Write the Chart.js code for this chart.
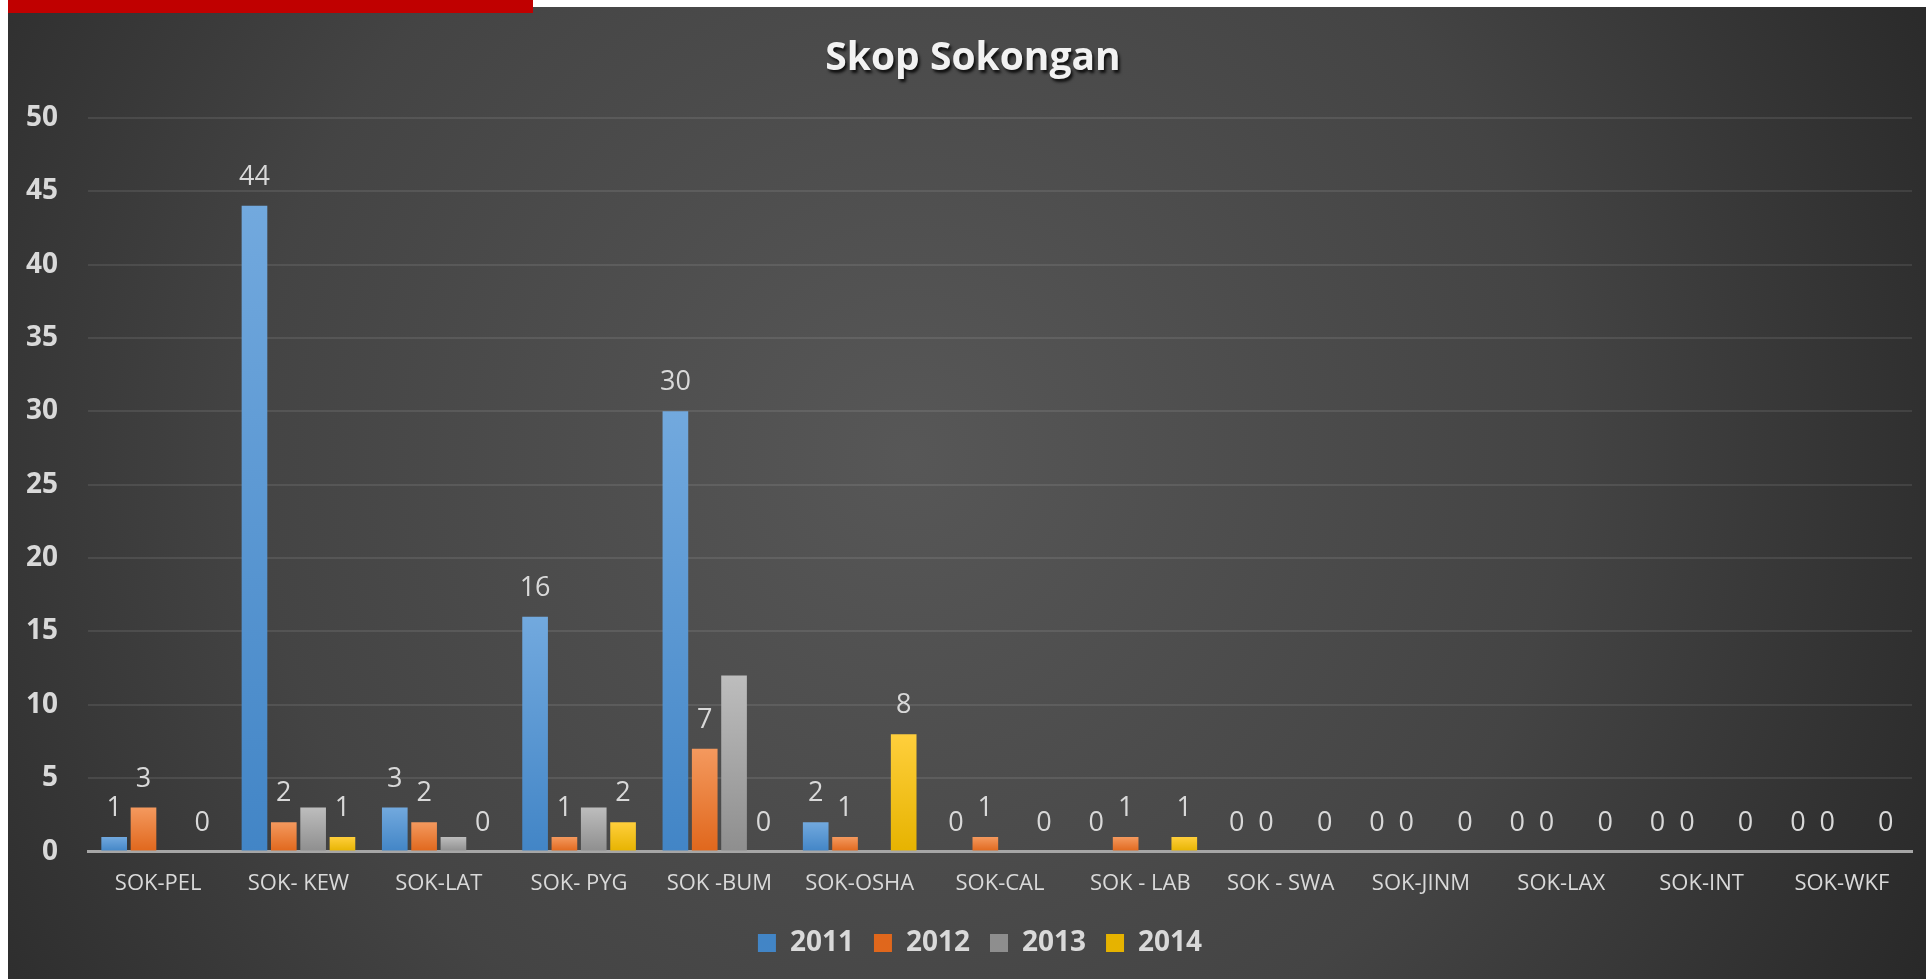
<!DOCTYPE html>
<html>
<head>
<meta charset="utf-8">
<title>Skop Sokongan</title>
<script src="https://cdn.jsdelivr.net/npm/chart.js@4.4.1/dist/chart.umd.min.js"></script>
<style>
  html, body { margin: 0; padding: 0; background: #fff; overflow: hidden; }
  .red-bar { position: absolute; left: 8px; top: 0; width: 525px; height: 13px; background: #c00000; z-index: 2; }
  .chart-wrap { position: absolute; left: 8px; top: 7px; width: 1918px; height: 972px; }
</style>
</head>
<body>
<div class="red-bar"></div>
<div class="chart-wrap">
  <canvas id="myChart"></canvas>
</div>
<script>
const categories = ['SOK-PEL', 'SOK- KEW', 'SOK-LAT', 'SOK- PYG', 'SOK -BUM', 'SOK-OSHA', 'SOK-CAL',
  'SOK - LAB', 'SOK - SWA', 'SOK-JINM', 'SOK-LAX', 'SOK-INT', 'SOK-WKF'];
const years = ['2011', '2012', '2013', '2014'];
const values2011 = [1, 44, 3, 16, 30, 2, 0, 0, 0, 0, 0, 0, 0];
const values2012 = [3, 2, 2, 1, 7, 1, 1, 1, 0, 0, 0, 0, 0];
const values2013 = [null, 3, 1, 3, 12, null, null, null, null, null, null, null, null];
const values2014 = [0, 1, 0, 2, 0, 8, 0, 1, 0, 0, 0, 0, 0];
const yTicks = [0, 5, 10, 15, 20, 25, 30, 35, 40, 45, 50];

const textColor = '#d9d9d9';
const font = "'Open Sans', sans-serif";

// vertical gradient for each bar, light on top
const barFill = (top, bottom) => (ctx) => {
  if (ctx.type !== 'data') return bottom;
  const chart = ctx.chart;
  const y = chart.scales && chart.scales.y;
  if (!y || ctx.raw == null) return bottom;
  const y0 = y.getPixelForValue(ctx.raw);
  const y1 = y.getPixelForValue(0);
  if (!Number.isFinite(y0) || !Number.isFinite(y1) || y1 - y0 < 1) return bottom;
  const g = chart.ctx.createLinearGradient(0, y0, 0, y1);
  g.addColorStop(0, top);
  g.addColorStop(1, bottom);
  return g;
};

const backgroundPlugin = {
  id: 'bg',
  beforeDraw(chart) {
    const { ctx, width, height } = chart;
    const g = ctx.createRadialGradient(width * 0.47, height * 0.46, 0, width * 0.47, height * 0.46, width * 0.62);
    g.addColorStop(0, '#575757');
    g.addColorStop(0.55, '#444444');
    g.addColorStop(1, '#262626');
    ctx.save();
    ctx.fillStyle = g;
    ctx.fillRect(0, 0, width, height);
    ctx.restore();
  }
};

// title and legend sit a little right of the canvas centre in the original,
// and the title has a drop shadow
const nudgeBoxes = {
  id: 'nudgeBoxes',
  afterLayout(chart) {
    const title = chart.titleBlock;
    if (title) {
      title.left += 13;
      title.right += 13;
      if (!title._shadowed) {
        const origDraw = title.draw;
        title.draw = function () {
          const ctx = this.ctx;
          ctx.save();
          ctx.shadowColor = 'rgba(0,0,0,0.8)';
          ctx.shadowOffsetX = 2;
          ctx.shadowOffsetY = 3;
          ctx.shadowBlur = 3;
          origDraw.apply(this, arguments);
          ctx.restore();
        };
        title._shadowed = true;
      }
    }
    if (chart.legend) { chart.legend.left += 20; chart.legend.right += 20; }
  }
};

// value labels above the bars
const valueLabels = {
  id: 'valueLabels',
  afterDatasetsDraw(chart) {
    const { ctx } = chart;
    ctx.save();
    ctx.font = "27px " + font;
    ctx.fillStyle = textColor;
    ctx.textAlign = 'center';
    ctx.textBaseline = 'alphabetic';
    chart.data.datasets.forEach((ds, i) => {
      if (!ds.showValues) return;
      const meta = chart.getDatasetMeta(i);
      meta.data.forEach((bar, j) => {
        const v = ds.data[j];
        if (v == null) return;
        ctx.fillText(String(v), bar.x, bar.y - 21);
      });
    });
    ctx.restore();
  }
};

new Chart(document.getElementById('myChart'), {
  type: 'bar',
  data: {
    labels: categories,
    datasets: [
      { label: years[0], data: values2011, backgroundColor: barFill('#72a9de', '#4285c6'), showValues: true },
      { label: years[1], data: values2012, backgroundColor: barFill('#f4995e', '#e0671c'), showValues: true },
      { label: years[2], data: values2013, backgroundColor: barFill('#bdbdbd', '#8e8e8e'), showValues: false },
      { label: years[3], data: values2014, backgroundColor: barFill('#ffcf3c', '#e6b300'), showValues: true },
    ],
  },
  options: {
    responsive: true,
    maintainAspectRatio: false,
    animation: false,
    categoryPercentage: 0.836,
    barPercentage: 0.875,
    layout: { padding: { left: 0, right: 14, top: 0, bottom: 12 } },
    plugins: {
      title: {
        display: true,
        text: 'Skop Sokongan',
        color: '#f2f2f2',
        font: { family: font, size: 39, weight: 'bold' },
        padding: { top: 28, bottom: 36 },
      },
      legend: {
        position: 'bottom',
        labels: {
          color: textColor,
          font: { family: font, size: 28, weight: 'bold' },
          boxWidth: 18,
          boxHeight: 18,
          padding: 20,
        },
      },
      tooltip: { enabled: false },
    },
    scales: {
      x: {
        afterFit: (scale) => { scale.height = scale.height - 7; },
        grid: { display: false, drawTicks: false },
        border: { color: '#a6a6a6', width: 3 },
        ticks: { color: textColor, font: { family: font, size: 22 }, padding: 19, maxRotation: 0, autoSkip: false },
      },
      y: {
        min: 0,
        max: 50,
        afterFit: (scale) => { scale.width = 80; },
        afterBuildTicks: (scale) => { scale.ticks = yTicks.map((v) => ({ value: v })); },
        grid: { color: 'rgba(255,255,255,0.09)', lineWidth: 2, drawTicks: false },
        border: { display: false },
        ticks: { color: textColor, font: { family: font, size: 28, weight: 'bold' }, padding: 30 },
      },
    },
  },
  plugins: [backgroundPlugin, nudgeBoxes, valueLabels],
});
</script>
</body>
</html>
